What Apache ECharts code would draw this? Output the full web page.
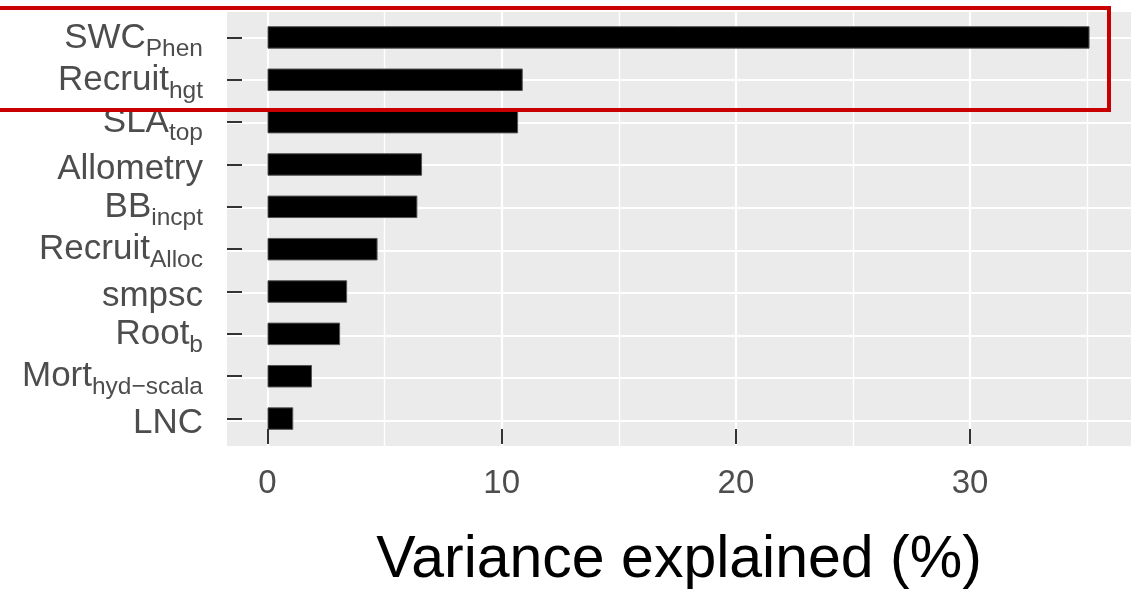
<!DOCTYPE html>
<html>
<head>
<meta charset="utf-8">
<script src="https://cdn.jsdelivr.net/npm/echarts@6/dist/echarts.min.js"></script>
<style>
  html, body { margin: 0; padding: 0; background: #fff; }
  #chart { width: 1143px; height: 595px; }
</style>
</head>
<body>
<div id="chart"></div>
<script>
// ---- data ----
const categories = ['SWC_Phen', 'Recruit_hgt', 'SLA_top', 'Allometry', 'BB_incpt',
                    'Recruit_Alloc', 'smpsc', 'Root_b', 'Mort_hyd\u2212scala', 'LNC'];
const values = [35.1, 10.9, 10.7, 6.6, 6.4, 4.7, 3.4, 3.1, 1.9, 1.1];
const xTickLabels = [0, 10, 20, 30];
const xMinorGrid = [5, 15, 25, 35];
const xAxisTitle = 'Variance explained (%)';

const FONT = '"Liberation Sans", Arial, Helvetica, sans-serif';
const PANEL = { left: 227, top: 12, width: 904, height: 434 };
const ZERO_X = 267.5, PX_PER_UNIT = 23.42;
const xMin = (PANEL.left - ZERO_X) / PX_PER_UNIT;
const xMax = (PANEL.left + PANEL.width - ZERO_X) / PX_PER_UNIT;
const catStep = PANEL.height / (categories.length + 0.2);

const chart = echarts.init(document.getElementById('chart'), null, { renderer: 'canvas' });

const gridLineData = []
  .concat(xTickLabels.map(v => ({ xAxis: v, lineStyle: { color: '#fff', width: 2.2, type: 'solid' } })))
  .concat(xMinorGrid.map(v => ({ xAxis: v, lineStyle: { color: '#fff', width: 1.4, type: 'solid' } })))
  .concat(categories.map((c, i) => ({ yAxis: i + 1, lineStyle: { color: '#fff', width: 2.2, type: 'solid' } })));

chart.setOption({
  animation: false,
  backgroundColor: '#fff',
  grid: [
    { left: PANEL.left, top: PANEL.top, width: PANEL.width, height: PANEL.height, z: 0,
      show: true, backgroundColor: '#EBEBEB', borderWidth: 0, borderColor: 'transparent' },
    { left: PANEL.left, top: PANEL.top + 0.1 * catStep, width: PANEL.width,
      height: catStep * categories.length }
  ],
  xAxis: [
    { type: 'value', gridIndex: 0, min: xMin, max: xMax,
      axisLine: { show: false }, axisTick: { show: false }, axisLabel: { show: false }, splitLine: { show: false } },
    { type: 'value', gridIndex: 1, min: xMin, max: xMax, offset: 0.1 * catStep, z: 10,
      axisLine: { show: false, onZero: false },
      splitLine: { show: false },
      axisTick: { show: true, inside: true, length: 15, customValues: xTickLabels,
                  lineStyle: { color: '#333', width: 2 } },
      axisLabel: { show: true, customValues: xTickLabels, margin: 23, fontSize: 33, lineHeight: 33,
                   color: '#4d4d4d', fontFamily: FONT },
      name: xAxisTitle, nameLocation: 'middle', nameGap: 87,
      nameTextStyle: { fontSize: 59, lineHeight: 59, color: '#000', fontFamily: FONT } }
  ],
  yAxis: [
    { type: 'value', gridIndex: 0, min: 0.4, max: categories.length + 0.6, inverse: true,
      axisLine: { show: false, onZero: false }, axisTick: { show: false }, axisLabel: { show: false }, splitLine: { show: false } },
    { type: 'category', gridIndex: 1, data: categories, inverse: true, z: 10,
      axisLine: { show: false, onZero: false },
      splitLine: { show: false },
      axisTick: { show: true, inside: true, length: 15, alignWithLabel: true,
                  lineStyle: { color: '#333', width: 2 } },
      axisLabel: {
        margin: 24,
        formatter: function (v) {
          const p = v.split('_');
          return p[1] ? '{M|' + p[0] + '}{s|' + p[1] + '}' : '{m|' + p[0] + '}';
        },
        rich: {
          m: { fontSize: 35, color: '#4d4d4d', fontFamily: FONT, padding: [10, 0, 0, 0] },
          M: { fontSize: 35, color: '#4d4d4d', fontFamily: FONT, padding: [1, 0, 0, 0] },
          s: { fontSize: 24.5, color: '#4d4d4d', fontFamily: FONT, padding: [23, 0, 0, 0] }
        }
      } }
  ],
  series: [
    { type: 'line', xAxisIndex: 0, yAxisIndex: 0, data: [], z: 1, silent: true,
      markLine: { silent: true, symbol: ['none', 'none'], label: { show: false },
                  animation: false, data: gridLineData } },
    { type: 'bar', xAxisIndex: 1, yAxisIndex: 1, data: values, barWidth: 22.5, z: 5,
      itemStyle: { color: '#000', borderColor: '#555', borderWidth: 1 } }
  ],
  graphic: [
    { type: 'rect', z: 100, silent: true,
      shape: { x: -10, y: 8, width: 1119, height: 102 },
      style: { fill: 'none', stroke: '#c80000', lineWidth: 4 } }
  ]
});
</script>
</body>
</html>
